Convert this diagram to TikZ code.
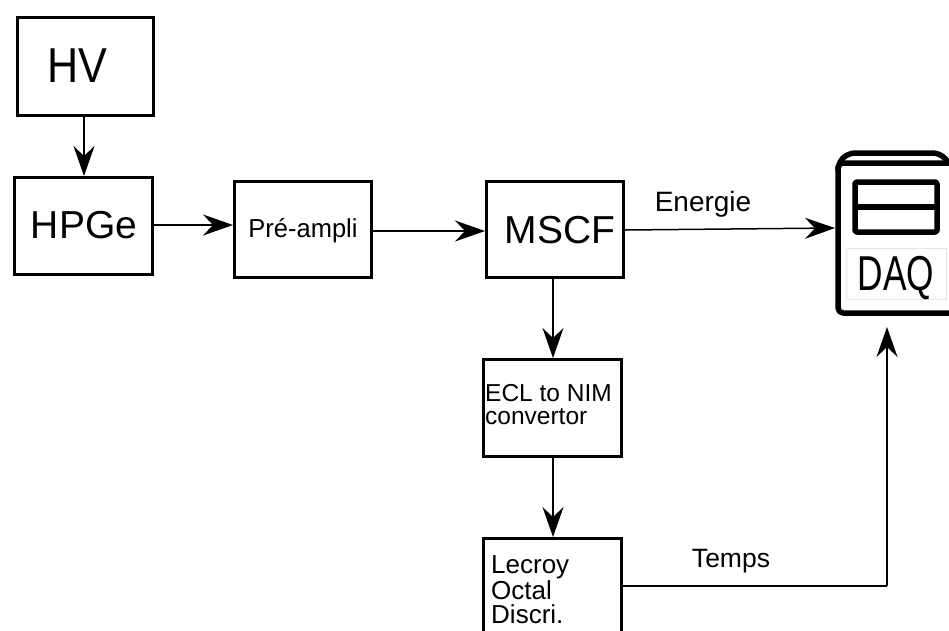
\documentclass[tikz,border=0pt]{standalone}
\usepackage{fontspec}
\setmainfont{Liberation Sans}
\usetikzlibrary{arrows.meta}
\newcommand{\fs}[2]{\fontsize{#1}{#2}\selectfont}
\tikzset{
  blk/.style={draw=black,line width=3.8pt,inner sep=0pt,outer sep=1.9pt,anchor=north west,fill=white},
  lab/.style={inner sep=0pt,anchor=base},
  lines/.style={inner sep=0pt,anchor=base west,align=left},
  conn/.style={line width=1.5pt,-{Stealth[length=30pt,width=21pt,inset=10pt]}},
  plain/.style={line width=1.5pt},
  daqline/.style={line width=5.5pt,line join=round}
}
\begin{document}
\begin{tikzpicture}[x=1pt,y=-1pt]
\useasboundingbox (0,0) rectangle (949,630);
\clip (0,0) rectangle (949,630);
\fill[white] (0,0) rectangle (949,630);
\node[blk,minimum width=136pt,minimum height=98pt] (hv) at (15.5,15.5) {};
\node[blk,minimum width=138pt,minimum height=97pt] (hpge) at (12.5,175.5) {};
\node[blk,minimum width=137pt,minimum height=96pt] (pre) at (232.5,179.5) {};
\node[blk,minimum width=137pt,minimum height=96pt] (mscf) at (484.5,179.5) {};
\node[blk,minimum width=138pt,minimum height=97pt] (ecl) at (481.5,357.5) {};
\node[blk,minimum width=138pt,minimum height=104pt] (lec) at (481.5,536.5) {};
\node[lab] at (77,82) {\fs{49}{49}\scalebox{.88}[1]{HV}};
\node[lab] at (84,238) {\fs{39}{39}HPGe};
\node[lab] at (303,237) {\fs{26}{26}\scalebox{.98}[1]{Pré-ampli}};
\node[lab] at (560,243) {\fs{39}{39}MSCF};
\node[lines,font=\fs{24.5}{23}] at (485,424) {ECL to NIM\\convertor};
\node[lines,font=\fs{26}{24}] at (491,623) {Lecroy\\Octal\\Discri.};
\node[lab] at (703,211) {\fs{28}{28}Energie};
\node[lab] at (731,567) {\fs{26.5}{26.5}Temps};
% DAQ icon
\node[minimum width=1pt,minimum height=160pt,inner sep=0pt,anchor=north west] (daq) at (835,155) {};
\draw[daqline,rounded corners=5pt] (955,163) -- (838,163) -- (838,313) -- (955,313);
\draw[daqline,rounded corners=7pt] (838,166) -- (838,163) -- (848,153) -- (940,153) -- (949,163);
\draw[daqline,rounded corners=2pt] (855,182) rectangle (937,232);
\draw[daqline] (855,207) -- (937,207);
\node[draw=black!10,line width=.5pt,minimum width=100pt,minimum height=51pt,inner sep=0pt,anchor=north west,fill=white] (daqlab) at (846,248) {};
\node[lab] at (896,290) {\fs{49}{49}\scalebox{.72}[1]{DAQ}};
% connectors
\coordinate (a1) at (84,116);
\coordinate (a2) at (84,176);
\draw[conn] (a1) -- (a2);
\coordinate (b1) at (153,225);
\coordinate (b2) at (233,225);
\draw[conn] (b1) -- (b2);
\coordinate (c1) at (372,231);
\coordinate (c2) at (485,231);
\draw[conn] (c1) -- (c2);
\coordinate (d1) at (625,230);
\draw[conn] (d1) -- (daq.west |- 0,228);
\coordinate (e1) at (553,278);
\coordinate (e2) at (553,358);
\draw[conn] (e1) -- (e2);
\coordinate (f1) at (553,457);
\coordinate (f2) at (553,537);
\draw[conn] (f1) -- (f2);
\coordinate (g1) at (622,586);
\coordinate (g2) at (887,586);
\coordinate (g3) at (887,327);
\draw[plain] (g1) -- (g2);
\draw[conn] (g2) -- (g3);
\end{tikzpicture}
\end{document}
